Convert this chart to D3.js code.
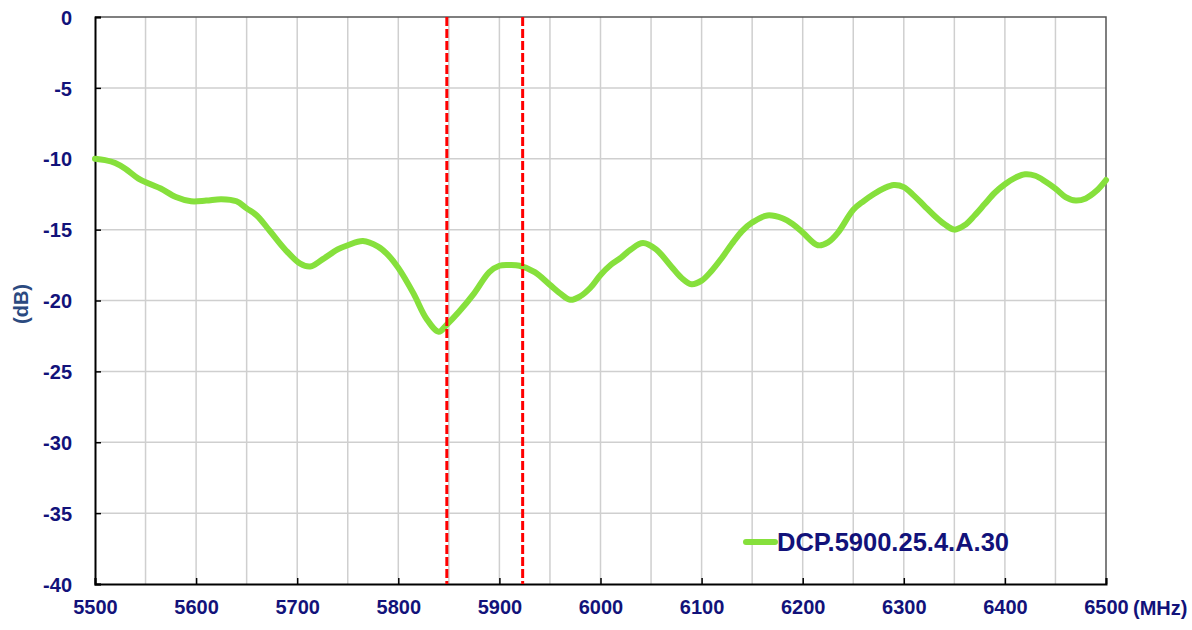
<!DOCTYPE html>
<html>
<head>
<meta charset="utf-8">
<script src="https://cdn.jsdelivr.net/npm/d3@7"></script>
<style>
  body { margin: 0; background: #fff; }
  text { font-family: "Liberation Sans", Arial, sans-serif; font-weight: bold; }
</style>
</head>
<body>
<div id="chart"></div>
<script>

// measured curve, frequency in MHz / level in dB
var freqs = [5500, 5510, 5520, 5530, 5543, 5555, 5565, 5580, 5595, 5610, 5625, 5640, 5650, 5660, 5673, 5688,
  5703, 5713, 5725, 5740, 5750, 5765, 5780, 5790, 5800, 5815, 5828, 5840, 5848, 5860, 5875, 5890,
  5900, 5910, 5920, 5935, 5950, 5960, 5970, 5980, 5990, 6000, 6010, 6020, 6030, 6042, 6055, 6070,
  6080, 6090, 6100, 6110, 6120, 6130, 6140, 6150, 6165, 6180, 6190, 6200, 6215, 6225, 6235, 6250,
  6260, 6270, 6280, 6290, 6300, 6310, 6320, 6330, 6340, 6350, 6360, 6370, 6380, 6390, 6400, 6410,
  6420, 6430, 6440, 6450, 6460, 6470, 6480, 6490, 6500];
var levels = [-10.0, -10.1, -10.3, -10.7, -11.4, -11.8, -12.1, -12.7, -13.0, -12.95, -12.85, -13.0, -13.5, -14.0, -15.1, -16.4,
  -17.4, -17.6, -17.1, -16.4, -16.1, -15.8, -16.2, -16.8, -17.7, -19.5, -21.3, -22.2, -21.7, -20.8, -19.5, -18.0,
  -17.55, -17.5, -17.55, -18.0, -18.9, -19.5, -19.95, -19.7, -19.1, -18.2, -17.5, -17.0, -16.4, -15.95, -16.4, -17.6,
  -18.4, -18.85, -18.6, -17.9, -17.0, -16.0, -15.1, -14.5, -14.0, -14.2, -14.6, -15.2, -16.1, -15.9, -15.2, -13.6,
  -13.0, -12.5, -12.1, -11.85, -12.0, -12.6, -13.3, -14.0, -14.6, -15.0, -14.7, -14.0, -13.2, -12.4, -11.8, -11.35,
  -11.1, -11.2, -11.6, -12.1, -12.7, -12.95, -12.8, -12.3, -11.5];

var xTicks = [5500, 5600, 5700, 5800, 5900, 6000, 6100, 6200, 6300, 6400, 6500];
var yTicks = [0, -5, -10, -15, -20, -25, -30, -35, -40];
var bandEdges = [5848, 5923];
var seriesName = "DCP.5900.25.4.A.30";

var width = 1192, height = 630;
var margin = {top: 17, right: 86, bottom: 46, left: 95};
var w = width - margin.left - margin.right,
    h = height - margin.top - margin.bottom;

var navy = "#12127a";

var svg = d3.select("#chart").append("svg")
  .attr("width", width)
  .attr("height", height);

var g = svg.append("g")
  .attr("transform", "translate(" + margin.left + "," + margin.top + ")");

var x = d3.scaleLinear().domain([5500, 6500]).range([0, w]);
var y = d3.scaleLinear().domain([-40, 0]).range([h, 0]);

// grid, every 50 MHz and 5 dB
g.append("g").selectAll("line")
  .data(d3.range(5550, 6500, 50))
  .enter().append("line")
  .attr("x1", d => x(d)).attr("x2", d => x(d))
  .attr("y1", 0).attr("y2", h)
  .attr("stroke", "#cfcfcf").attr("stroke-width", 1.5);

g.append("g").selectAll("line")
  .data(yTicks.filter(d => d > -40 && d < 0))
  .enter().append("line")
  .attr("x1", 0).attr("x2", w)
  .attr("y1", d => y(d)).attr("y2", d => y(d))
  .attr("stroke", "#cfcfcf").attr("stroke-width", 1.5);

// top/right frame
g.append("path")
  .attr("d", "M0,0H" + w + "V" + h)
  .attr("fill", "none").attr("stroke", "#555").attr("stroke-width", 1.5);

// axes with inner ticks, plain hyphen for minus
var xAxis = g.append("g")
  .attr("transform", "translate(0," + h + ")")
  .call(d3.axisBottom(x).tickValues(xTicks).tickSize(-6).tickPadding(16).tickFormat(d => String(d)));
var yAxis = g.append("g")
  .call(d3.axisLeft(y).tickValues(yTicks).tickSize(-6).tickPadding(23).tickFormat(d => String(d)));

[xAxis, yAxis].forEach(function(a) {
  a.select(".domain").attr("stroke", "#000").attr("stroke-width", 2);
  a.selectAll(".tick line").attr("stroke", "#000").attr("stroke-width", 1.5);
  a.selectAll(".tick text")
    .attr("fill", navy)
    .style("font-size", "20px")
    .style("font-family", "'Liberation Sans', Arial, sans-serif")
    .style("font-weight", "bold");
});
yAxis.selectAll(".tick text").attr("dy", "0.36em");
xAxis.selectAll(".tick text").attr("dy", "0.71em");

// curve
var pts = freqs.map((f, i) => ({f: f, v: levels[i]}));
var line = d3.line()
  .x(d => x(d.f))
  .y(d => y(d.v))
  .curve(d3.curveCatmullRom.alpha(0.5));

g.append("path")
  .datum(pts)
  .attr("fill", "none")
  .attr("stroke", "#86e03c")
  .attr("stroke-width", 6)
  .attr("stroke-linejoin", "round")
  .attr("stroke-linecap", "round")
  .attr("d", line);

// band markers
g.append("g").selectAll("line")
  .data(bandEdges)
  .enter().append("line")
  .attr("x1", d => x(d)).attr("x2", d => x(d))
  .attr("y1", 0).attr("y2", h)
  .attr("stroke", "#ff0000")
  .attr("stroke-width", 3)
  .attr("stroke-dasharray", "9,3");

// legend
g.append("line")
  .attr("x1", 651).attr("x2", 680)
  .attr("y1", 525).attr("y2", 525)
  .attr("stroke", "#86e03c").attr("stroke-width", 6).attr("stroke-linecap", "round");
g.append("text")
  .attr("x", 682).attr("y", 534)
  .attr("fill", navy)
  .style("font-size", "25.5px")
  .text(seriesName);

// axis titles
svg.append("text")
  .attr("x", 1133).attr("y", 615)
  .attr("fill", navy)
  .style("font-size", "20px")
  .text("(MHz)");

svg.append("text")
  .attr("transform", "translate(28,304) rotate(-90)")
  .attr("text-anchor", "middle")
  .attr("fill", "#2b4a80")
  .style("font-size", "20px")
  .text("(dB)");

</script>
</body>
</html>
